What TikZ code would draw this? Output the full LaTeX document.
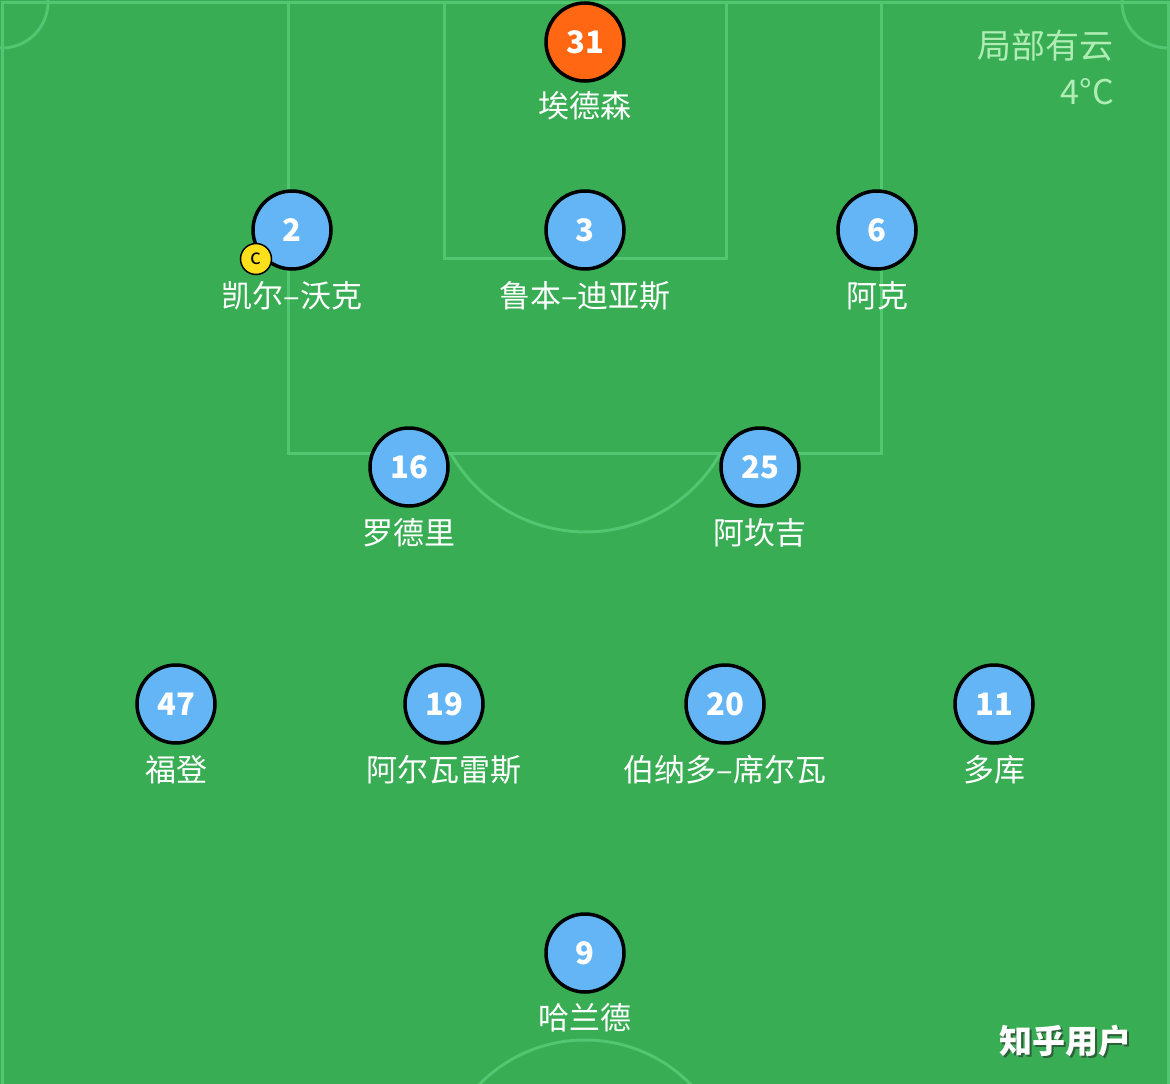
\documentclass[tikz,border=0pt]{standalone}
\usepackage{fontspec}
\setmainfont{Noto Sans CJK SC}
\definecolor{field}{HTML}{38AD54}
\definecolor{fline}{HTML}{52C670}
\definecolor{pblue}{HTML}{64B5F6}
\definecolor{gkorange}{HTML}{FF6712}
\definecolor{capy}{HTML}{FFE01A}
\definecolor{wtext}{HTML}{B0EDB4}
\definecolor{wmshade}{HTML}{2E5E3A}
\tikzset{
  pitchline/.style={draw=fline, line width=3pt},
  player/.style={circle, draw=black, line width=3.5pt, fill=pblue, minimum size=78pt, inner sep=0pt,
    text=white, font=\fontsize{31}{31}\selectfont\bfseries},
  keeper/.style={player, fill=gkorange},
  pname/.style={text=white, font=\fontsize{31}{31}\selectfont, inner sep=0pt},
  capbadge/.style={circle, draw=black, line width=1.5pt, fill=capy, minimum size=31pt, inner sep=0pt,
    font=\fontsize{21}{21}\selectfont},
  weather/.style={text=wtext, font=\fontsize{34}{34}\selectfont, anchor=east, inner sep=0pt},
}
\begin{document}
\begin{tikzpicture}[x=1pt,y=-1pt]
\useasboundingbox (0,0) rectangle (1170,1084);
\fill[field] (0,0) rectangle (1170,1084);
\begin{scope}
\clip (0,0) rectangle (1170,1084);
% outer lines
\draw[pitchline] (2,1090) -- (2,2) -- (1168,2) -- (1168,1090);
% corner arcs
\draw[pitchline] (2,2) circle[radius=46];
\draw[pitchline] (1168,2) circle[radius=46];
% penalty box
\draw[pitchline] (288,2) -- (288,453) -- (881,453) -- (881,2);
% goal area
\draw[pitchline] (444,2) -- (444,258) -- (726,258) -- (726,2);
% penalty arc
\draw[pitchline] (450.5,453) arc[start angle=150.6, end angle=29.4, radius=155];
% centre circle (partial)
\draw[pitchline] (585,1188) circle[radius=148];
\end{scope}

% weather
\node[weather] (w1) at (1114,46) {局部有云};
\node[weather] (w2) at (1114,92) {4°C};

% goalkeeper
\node[keeper] (p31) at (585,42) {31};
\node[pname] (n31) at (585,106) {埃德森};
% defence
\node[player] (p2) at (292,230) {2};
\node[pname] (n2) at (292,296) {凯尔–沃克};
\node[capbadge] (cap) at (256,259) {c};
\node[player] (p3) at (585,230) {3};
\node[pname] (n3) at (585,296) {鲁本–迪亚斯};
\node[player] (p6) at (877,230) {6};
\node[pname] (n6) at (877,296) {阿克};
% midfield
\node[player] (p16) at (409,467) {16};
\node[pname] (n16) at (409,533) {罗德里};
\node[player] (p25) at (760,467) {25};
\node[pname] (n25) at (760,533) {阿坎吉};
% attacking mid
\node[player] (p47) at (176,704) {47};
\node[pname] (n47) at (176,770) {福登};
\node[player] (p19) at (444,704) {19};
\node[pname] (n19) at (444,770) {阿尔瓦雷斯};
\node[player] (p20) at (725,704) {20};
\node[pname] (n20) at (725,770) {伯纳多–席尔瓦};
\node[player] (p11) at (994,704) {11};
\node[pname] (n11) at (994,770) {多库};
% striker
\node[player] (p9) at (585,953) {9};
\node[pname] (n9) at (585,1018) {哈兰德};

% watermark (with drop shadow)
\node[text=white, font=\fontsize{33}{33}\selectfont\bfseries, inner sep=0pt] (wm) at (1065,1042)
  {\makebox[0pt][l]{\hspace{2.5pt}\raisebox{-2.5pt}{\textcolor{wmshade}{知乎用户}}}知乎用户};
\end{tikzpicture}
\end{document}
